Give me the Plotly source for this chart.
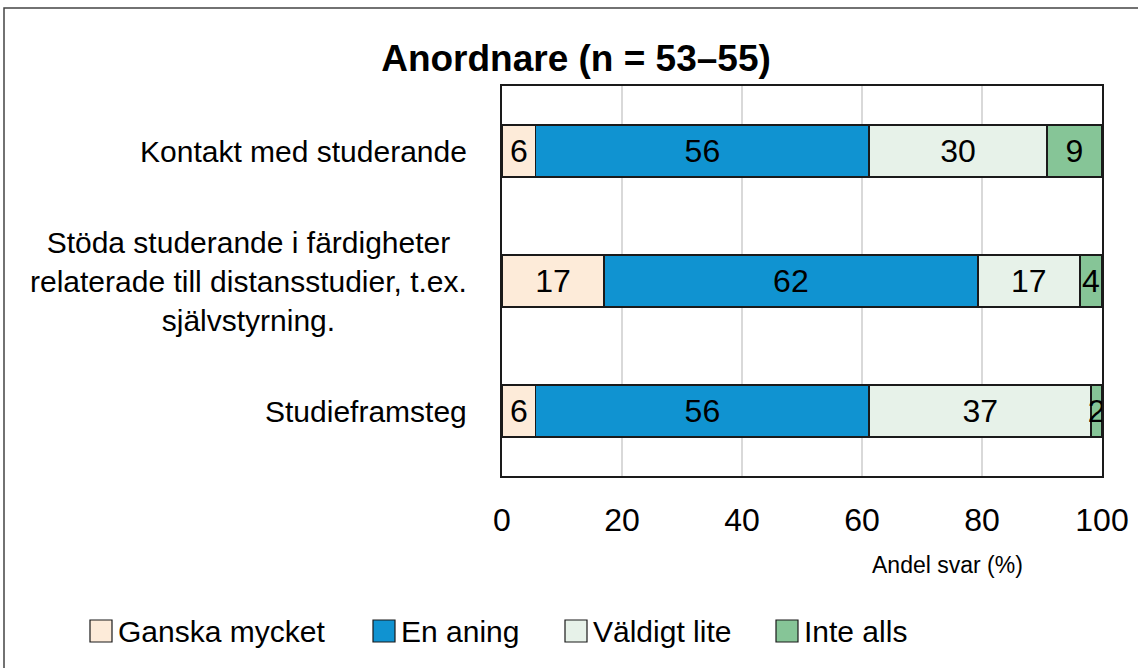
import plotly.graph_objects as go

# ---- data ----
categories = [
    "Kontakt med studerande",
    "Stöda studerande i färdigheter<br>relaterade till distansstudier, t.ex.<br>självstyrning.",
    "Studieframsteg",
]
series_names = ["Ganska mycket", "En aning", "Väldigt lite", "Inte alls"]
ganska_mycket = [5.6, 17.0, 5.6]
en_aning = [55.6, 62.3, 55.6]
valdigt_lite = [29.6, 17.0, 37.0]
inte_alls = [9.2, 3.7, 1.8]
series_values = [ganska_mycket, en_aning, valdigt_lite, inte_alls]
series_colors = ["#FDEBD9", "#1093D1", "#E7F2E9", "#86C597"]
x_ticks = [0, 20, 40, 60, 80, 100]
title_text = "Anordnare (n = 53–55)"
x_title = "Andel svar (%)"

W, H = 1138, 668
L, R, T, B = 502, 36, 86, 192
PW, PH = W - L - R, H - T - B

def px_x(px):
    return (px - L) / PW

def px_y(py):
    return (H - B - py) / PH

FONT = "Liberation Sans, Arial, sans-serif"

fig = go.Figure()
for name, vals, col in zip(series_names, series_values, series_colors):
    fig.add_trace(go.Bar(
        name=name, y=categories, x=vals, orientation="h",
        marker=dict(color=col, line=dict(color="#1a1a1a", width=1.5)),
        texttemplate="%{x:.0f}", textposition="inside",
        insidetextanchor="middle", textangle=0, constraintext="none",
        insidetextfont=dict(family=FONT, size=32, color="black"),
        showlegend=False, hoverinfo="x+name",
    ))

annotations = []
# category labels
for c in categories:
    annotations.append(dict(
        x=px_x(469), xref="paper", y=c, yref="y", text=c, showarrow=False,
        xanchor="right", yanchor="middle", align="center",
        font=dict(family=FONT, size=30, color="black"),
    ))
# x axis title
annotations.append(dict(
    x=px_x(870), xref="paper", y=px_y(565), yref="paper", text=x_title,
    showarrow=False, xanchor="left", yanchor="middle",
    font=dict(family=FONT, size=23, color="black"),
))

shapes = []
# legend (manual, to match large square keys)
legend_left = [90, 373, 565, 776]
sq = 22
legend_cy = 631
for name, col, lx in zip(series_names, series_colors, legend_left):
    shapes.append(dict(
        type="rect", xref="paper", yref="paper",
        x0=px_x(lx), x1=px_x(lx + sq), y0=px_y(legend_cy + sq / 2), y1=px_y(legend_cy - sq / 2),
        fillcolor=col, line=dict(color="#1a1a1a", width=1.2),
    ))
    annotations.append(dict(
        x=px_x(lx + sq + 4), xref="paper", y=px_y(legend_cy), yref="paper", text=name,
        showarrow=False, xanchor="left", yanchor="middle",
        font=dict(family=FONT, size=30, color="black"),
    ))
# outer frame
shapes.append(dict(
    type="rect", xref="paper", yref="paper",
    x0=px_x(4), x1=px_x(W + 20), y0=px_y(H + 20), y1=px_y(8),
    line=dict(color="#444444", width=1.5), fillcolor="rgba(0,0,0,0)", layer="below",
))

fig.update_layout(
    width=W, height=H, autosize=False,
    margin=dict(l=L, r=R, t=T, b=B, pad=0),
    barmode="stack", bargap=0.6,
    plot_bgcolor="white", paper_bgcolor="white",
    title=dict(text=title_text, x=576 / W, xref="container", xanchor="center",
               y=1 - 58 / H, yref="container", yanchor="middle",
               font=dict(family=FONT, size=37, color="black", weight="bold")),
    xaxis=dict(range=[0, 100], tickvals=x_ticks, showgrid=True, gridcolor="#d9d9d9", gridwidth=2,
               zeroline=False, showline=True, mirror=True, linecolor="#1a1a1a", linewidth=1.5,
               ticks="", ticklabelstandoff=15, automargin=False,
               tickfont=dict(family=FONT, size=32, color="black")),
    yaxis=dict(autorange="reversed", showticklabels=False, showgrid=False, zeroline=False,
               showline=True, mirror=True, linecolor="#1a1a1a", linewidth=1.5, ticks="",
               automargin=False),
    annotations=annotations, shapes=shapes,
)

fig.write_html(
    "out.html",
    config={"responsive": False, "displayModeBar": False},
    post_script="document.body.style.margin='0';document.body.style.overflow='hidden';",
)
